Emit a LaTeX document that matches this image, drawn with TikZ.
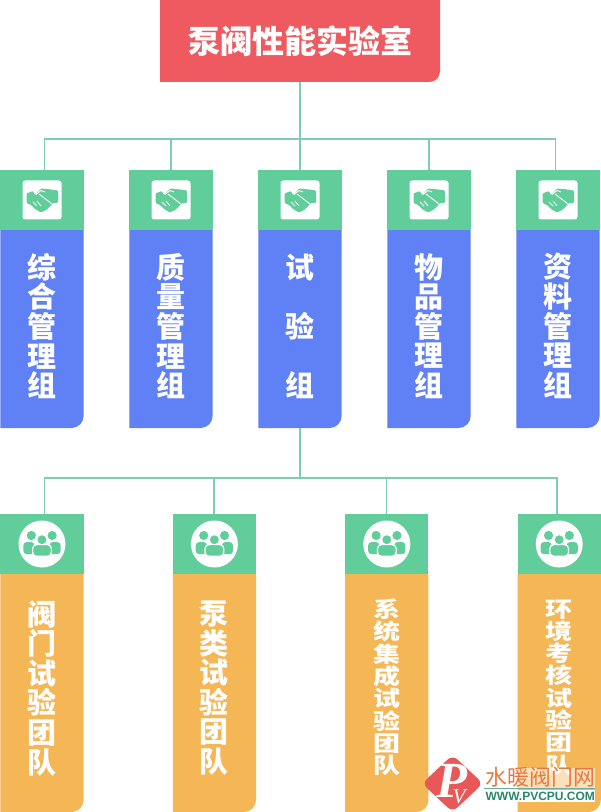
\documentclass[tikz,border=0pt]{standalone}
\usepackage{fontspec}
\setmainfont{Noto Sans CJK SC}
\newfontfamily\latinserif{Liberation Serif}
\newfontfamily\latinsans{Liberation Sans}
\usepackage{tikz}
\usetikzlibrary{shapes.geometric, positioning, calc, backgrounds}

\definecolor{titlered}{RGB}{238,90,96}
\definecolor{headgreen}{RGB}{97,205,155}
\definecolor{linkgreen}{RGB}{125,205,178}
\definecolor{groupblue}{RGB}{96,128,245}
\definecolor{teamorange}{RGB}{245,182,85}
\definecolor{markred}{RGB}{232,88,88}
\definecolor{markorange}{RGB}{232,120,62}
\definecolor{markgreen}{RGB}{40,135,105}

% square corners except the bottom right one
\newcommand{\panelfill}[3]{%
  \fill[#2] (#1.north west) -- (#1.north east) [rounded corners=#3]
    -- (#1.south east) [sharp corners] -- (#1.south west) -- cycle;}

\begin{document}
\begin{tikzpicture}[
  head/.style={
    rectangle, fill=headgreen, inner sep=0pt, outer sep=0pt,
    minimum width=62.4pt, minimum height=45pt
  },
  groupbody/.style={
    rectangle, inner sep=0pt, outer sep=0pt,
    minimum width=62.4pt, minimum height=148.5pt
  },
  teambody/.style={
    rectangle, inner sep=0pt, outer sep=0pt,
    minimum width=62.4pt, minimum height=178.5pt
  },
  tagsquare/.style={
    rectangle, rounded corners=2pt, fill=white, inner sep=0pt,
    minimum width=29.25pt, minimum height=29.25pt
  },
  tagcircle/.style={
    circle, fill=white, inner sep=0pt, minimum size=35.25pt
  },
  label/.style={
    align=center, text=white, inner sep=0pt,
    font=\fontsize{21.75}{22.2}\selectfont\bfseries
  },
  widelabel/.style={
    align=center, text=white, inner sep=0pt,
    font=\fontsize{21.75}{44.4}\selectfont\bfseries
  },
  flatlabel/.style={
    align=center, text=white, inner sep=0pt, yscale=0.8, transform shape,
    font=\fontsize{20.25}{20.9}\selectfont\bfseries
  },
  link/.style={draw=linkgreen, line width=1.1pt},
  handshake/.pic={
    \begin{scope}[x=0.75pt, y=0.75pt]
      \fill[headgreen, rounded corners=0.8pt] (-15.5,6.5) -- (-9,9) -- (-6,5.5) -- (-1,11.5) -- (9,10.5) -- (16,9.5)
        -- (16,-3) -- (11,-3) -- (5,-9.5) -- (-1,-12.5) -- (-7,-9) -- (-11,-5) -- (-15.5,-3) -- cycle;
      \draw[white, line width=0.65pt] (-9,9.5) -- (-6.5,5.5) (-6,5.5) -- (-1,9.5) -- (3,8) (-3,6) -- (10,-4);
      \draw[white, line width=0.6pt] (-9,-2) -- (-5,-6) (-5,-1) -- (-1,-6);
    \end{scope}
  },
  people/.pic={
    \begin{scope}[x=0.8pt, y=0.8pt]
      \fill[headgreen] (-10,8) circle (4.3) (9.5,8) circle (4.3);
      \fill[headgreen, rounded corners=2.5pt] (-17.5,-9.5) rectangle (-7,1.8);
      \fill[headgreen, rounded corners=2.5pt] (7,-9.5) rectangle (17.5,1.8);
      \filldraw[fill=headgreen, draw=white, line width=0.9pt] (0,4) circle (4.9);
      \filldraw[fill=headgreen, draw=white, line width=0.9pt, rounded corners=3pt]
        (-8.8,-11.5) rectangle (8.8,-0.6);
    \end{scope}
  }
]
\useasboundingbox (0,0) rectangle (450pt,-609pt);

\node[rectangle, inner sep=0pt, outer sep=0pt, minimum width=210pt, minimum height=61.5pt,
  anchor=north, text=white, font=\fontsize{24}{26}\selectfont\bfseries] (title) at (225pt,0) {泵阀性能实验室};

% groups
\node[head, below=66pt of title] (g3) {};
\node[head, left=34.35pt of g3] (g2) {};
\node[head, left=34.35pt of g2] (g1) {};
\node[head, right=34.35pt of g3] (g4) {};
\node[head, right=34.35pt of g4] (g5) {};

\node[groupbody, below=0pt of g1] (b1) {};
\node[groupbody, below=0pt of g2] (b2) {};
\node[groupbody, below=0pt of g3] (b3) {};
\node[groupbody, below=0pt of g4] (b4) {};
\node[groupbody, below=0pt of g5] (b5) {};

\node[tagsquare] (i1) at (g1) {};
\node[tagsquare] (i2) at (g2) {};
\node[tagsquare] (i3) at (g3) {};
\node[tagsquare] (i4) at (g4) {};
\node[tagsquare] (i5) at (g5) {};
\pic at (i1) {handshake};
\pic at (i2) {handshake};
\pic at (i3) {handshake};
\pic at (i4) {handshake};
\pic at (i5) {handshake};

\node[label] (n1) at ([yshift=2.2pt]b1.center) {综\\合\\管\\理\\组};
\node[label] (n2) at ([yshift=2.2pt]b2.center) {质\\量\\管\\理\\组};
\node[widelabel] (n3) at ([yshift=2.2pt]b3.center) {试\\验\\组};
\node[label] (n4) at ([yshift=2.2pt]b4.center) {物\\品\\管\\理\\组};
\node[label] (n5) at ([yshift=2.2pt]b5.center) {资\\料\\管\\理\\组};

% teams
\node[head, below=64.5pt of b1] (t1) {};
\node[head, right=66.9pt of t1] (t2) {};
\node[head, right=66.9pt of t2] (t3) {};
\node[head, right=66.9pt of t3] (t4) {};

\node[teambody, below=0pt of t1] (c1) {};
\node[teambody, below=0pt of t2] (c2) {};
\node[teambody, below=0pt of t3] (c3) {};
\node[teambody, below=0pt of t4] (c4) {};

\node[tagcircle] (j1) at (t1) {};
\node[tagcircle] (j2) at (t2) {};
\node[tagcircle] (j3) at (t3) {};
\node[tagcircle] (j4) at (t4) {};
\pic at (j1) {people};
\pic at (j2) {people};
\pic at (j3) {people};
\pic at (j4) {people};

\node[label] (m1) at ([yshift=3.7pt]c1.center) {阀\\门\\试\\验\\团\\队};
\node[label] (m2) at ([yshift=3.7pt]c2.center) {泵\\类\\试\\验\\团\\队};
\node[flatlabel] (m3) at ([yshift=4.2pt]c3.center) {系\\统\\集\\成\\试\\验\\团\\队};
\node[flatlabel] (m4) at ([yshift=4.2pt]c4.center) {环\\境\\考\\核\\试\\验\\团\\队};

\begin{scope}[on background layer]
  \panelfill{title}{titlered}{8pt}
  \panelfill{b1}{groupblue}{9pt}
  \panelfill{b2}{groupblue}{9pt}
  \panelfill{b3}{groupblue}{9pt}
  \panelfill{b4}{groupblue}{9pt}
  \panelfill{b5}{groupblue}{9pt}
  \panelfill{c1}{teamorange}{9pt}
  \panelfill{c2}{teamorange}{9pt}
  \panelfill{c3}{teamorange}{9pt}
  \panelfill{c4}{teamorange}{9pt}
\end{scope}

\coordinate[below=42.75pt of title.south] (bus1);
\coordinate[below=37.5pt of b3.south] (bus2);

\draw[link] (title.south) -- (g3.north);
\draw[link] ([xshift=1.7pt]g1.north) |- (bus1) -| ([xshift=-1.7pt]g5.north);
\draw[link] (g2.north) |- (bus1);
\draw[link] (g4.north) |- (bus1);

\draw[link] (b3.south) -- (bus2);
\draw[link] ([xshift=1.7pt]t1.north) |- (bus2) -| ([xshift=-1.7pt]t4.north);
\draw[link] ([xshift=-0.4pt]t2.north) |- (bus2);
\draw[link] ([xshift=-0.4pt]t3.north) |- (bus2);

% site mark
\node[rectangle, fill=white, fill opacity=0.6, inner sep=0pt, minimum width=83pt, minimum height=15pt,
  anchor=south west] (band1) at (363pt,-591pt) {};
\node[rectangle, fill=white, inner sep=0pt, minimum width=83pt, minimum height=8.5pt,
  anchor=north west] (band2) at (363pt,-592.5pt) {};
\node[diamond, fill=markred, rounded corners=5pt, inner sep=0pt, aspect=1.08,
  minimum width=46pt, minimum height=43pt] (mark) at (339.4pt,-587.6pt) {};
\node[text=white, inner sep=0pt, font=\latinserif\fontsize{38}{38}\selectfont\bfseries\itshape] (markp) at (339pt,-586pt) {P};
\node[text=white, inner sep=0pt, font=\latinserif\fontsize{16}{16}\selectfont\itshape] (markv) at (344.3pt,-597.4pt) {V};
\node[text=markorange, inner sep=0pt, anchor=west, font=\fontsize{16.4}{17}\selectfont] (sitename) at (364pt,-583pt) {水暖阀门网};
\draw[draw=markgreen!70, line width=0.6pt] (band1.south west) -- (band1.south east);
\node[text=markgreen, inner sep=0pt, anchor=west, font=\latinsans\fontsize{9}{9}\selectfont\bfseries] (siteurl) at (364pt,-597pt) {WWW.PVCPU.COM};
\end{tikzpicture}
\end{document}
